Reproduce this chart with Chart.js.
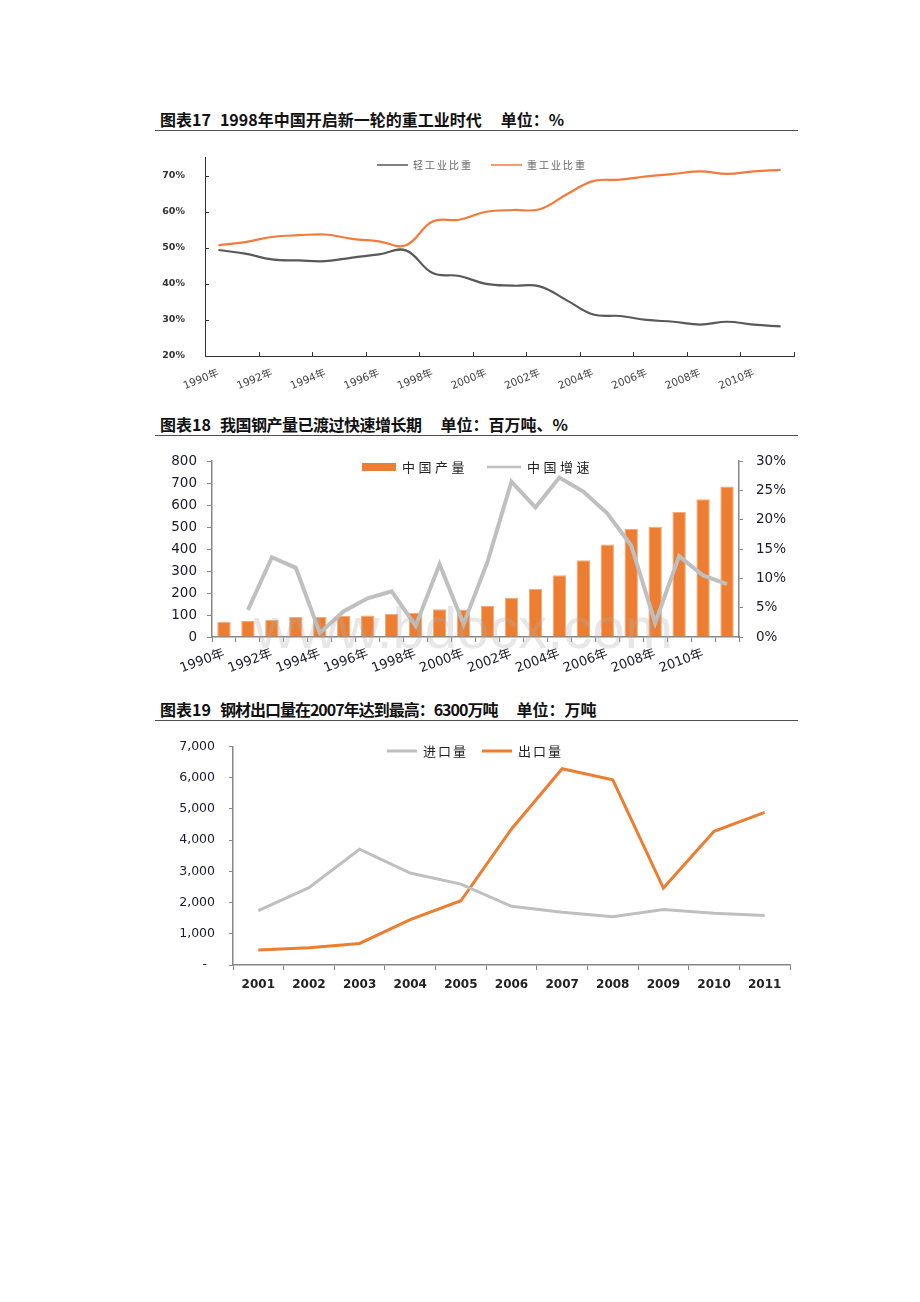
<!DOCTYPE html>
<html lang="zh-CN">
<head>
<meta charset="UTF-8" />
<title>钢铁行业图表</title>
<script src="https://cdn.jsdelivr.net/npm/chart.js"></script>
<style>
  body { margin: 0; width: 920px; height: 1302px; background: #fff; position: relative; font-family: "Noto Sans CJK SC", sans-serif; }
  .title { position: absolute; left: 160px; font-size: 16px; font-weight: bold; color: #111; line-height: 20px; white-space: nowrap; }
  .title .g1 { margin-left: 9px; }
  .title .g2 { margin-left: 19px; }
  .rule { position: absolute; left: 155px; width: 643px; height: 0; border-top: 1.6px solid #505050; }
  canvas { position: absolute; left: 150px; }
  .mark { position: absolute; left: 254px; top: 594px; font: 58px "Liberation Sans", sans-serif; color: rgba(175, 175, 175, 0.3); pointer-events: none; white-space: nowrap; }
</style>
</head>
<body>

<div class="title" style="top:109px">图表17<span class="g1">1998年中国开启新一轮的重工业时代</span><span class="g2">单位：%</span></div>
<div class="rule" style="top:130px"></div>
<canvas id="c1" width="650" height="262" style="top:140px"></canvas>

<div class="title" style="top:414px">图表18<span class="g1" style="letter-spacing:-0.5px">我国钢产量已渡过快速增长期</span><span class="g2">单位：百万吨、%</span></div>
<div class="rule" style="top:435px"></div>
<canvas id="c2" width="650" height="250" style="top:440px"></canvas>
<div class="mark">www.bdocx.com</div>

<div class="title" style="top:699px">图表19<span class="g1" style="letter-spacing:-1px">钢材出口量在2007年达到最高：6300万吨</span><span class="g2">单位：万吨</span></div>
<div class="rule" style="top:720px"></div>
<canvas id="c3" width="650" height="275" style="top:725px"></canvas>

<script>
  // 图表17 / 图表18 的年份
  const years90 = ['1990年', '1991年', '1992年', '1993年', '1994年', '1995年', '1996年', '1997年',
    '1998年', '1999年', '2000年', '2001年', '2002年', '2003年', '2004年', '2005年',
    '2006年', '2007年', '2008年', '2009年', '2010年', '2011年'];

  // 轻/重工业比重 (%)
  const lightShare = [49.4, 48.4, 46.8, 46.5, 46.3, 47.3, 48.2, 49.3, 43.0, 42.2, 40.0,
    39.5, 39.3, 35.5, 31.5, 31.1, 30.0, 29.5, 28.7, 29.5, 28.7, 28.2];
  const heavyShare = [50.7, 51.6, 53.0, 53.5, 53.7, 52.5, 51.8, 50.7, 57.3, 57.8, 60.0,
    60.5, 60.7, 64.8, 68.5, 68.9, 69.8, 70.5, 71.2, 70.5, 71.2, 71.6];

  // 中国钢产量 (百万吨) 与增速 (%)
  const steelOutput = [69, 73, 79, 91, 91, 96, 98, 106, 110, 126, 125,
    141, 178, 219, 281, 349, 421, 491, 501, 569, 626, 684];
  const steelGrowth = [null, 4.6, 13.6, 11.8, 0.7, 4.4, 6.6, 7.8, 1.9, 12.4, 2.2,
    12.8, 26.5, 22.1, 27.2, 24.8, 21.1, 15.6, 2.4, 13.8, 10.5, 9.0];

  // 钢材进出口量 (万吨)
  const years01 = ['2001', '2002', '2003', '2004', '2005', '2006', '2007', '2008', '2009', '2010', '2011'];
  const importVol = [1745, 2477, 3710, 2947, 2592, 1881, 1693, 1546, 1776, 1661, 1588];
  const exportVol = [480, 554, 690, 1452, 2058, 4357, 6290, 5935, 2466, 4284, 4890];

  const NUM_FONT = '"DejaVu Sans", "Noto Sans CJK SC", sans-serif';
  const CJK_FONT = '"Noto Sans CJK SC", sans-serif';

  Chart.defaults.animation = false;
  Chart.defaults.responsive = false;
  Chart.defaults.plugins.tooltip.enabled = false;
  Chart.defaults.plugins.legend.display = false;

  // legend drawn inside the plot area, like the Excel originals
  const inLegend = {
    id: 'inLegend',
    afterDraw(chart, args, o) {
      const ctx = chart.ctx;
      ctx.save();
      ctx.font = o.font;
      ctx.letterSpacing = o.spacing + 'px';
      ctx.textBaseline = 'middle';
      let x = o.x;
      chart.data.datasets.forEach(ds => {
        const isBar = (ds.type || chart.config.type) === 'bar';
        if (isBar) {
          ctx.fillStyle = ds.backgroundColor;
          ctx.fillRect(x, o.y - o.rectH / 2, o.swatch, o.rectH);
        } else {
          ctx.strokeStyle = ds.borderColor;
          ctx.lineWidth = o.lineW;
          ctx.beginPath();
          ctx.moveTo(x, o.y);
          ctx.lineTo(x + o.swatch, o.y);
          ctx.stroke();
        }
        x += o.swatch + o.textGap;
        ctx.fillStyle = o.color;
        ctx.fillText(ds.label, x, o.y);
        x += ctx.measureText(ds.label).width + o.itemGap;
      });
      ctx.restore();
    }
  };

  // tick marks pointing into the plot (图表17)
  const innerTicks = {
    id: 'innerTicks',
    afterDraw(chart, args, o) {
      const ctx = chart.ctx, xs = chart.scales.x, ys = chart.scales.y;
      const half = (xs.getPixelForValue(1) - xs.getPixelForValue(0)) / 2;
      ctx.save();
      ctx.strokeStyle = o.color;
      ctx.lineWidth = 1;
      ctx.beginPath();
      for (let i = 2; i <= chart.data.labels.length; i += 2) {
        const px = Math.round(xs.getPixelForValue(i) - half) + 0.5;
        ctx.moveTo(px, ys.bottom);
        ctx.lineTo(px, ys.bottom - o.len);
      }
      for (let v = 30; v <= 70; v += 10) {
        const py = Math.round(ys.getPixelForValue(v)) + 0.5;
        ctx.moveTo(xs.left, py);
        ctx.lineTo(xs.left + o.len, py);
      }
      ctx.stroke();
      ctx.restore();
    }
  };

  // 图表17
  new Chart(document.getElementById('c1'), {
    type: 'line',
    data: {
      labels: years90,
      datasets: [
        { label: '轻工业比重', data: lightShare, borderColor: '#595959', borderWidth: 2.2, pointRadius: 0, tension: 0.4 },
        { label: '重工业比重', data: heavyShare, borderColor: '#F5793B', borderWidth: 2.2, pointRadius: 0, tension: 0.4 }
      ]
    },
    options: {
      layout: { padding: { top: 14, right: 6 } },
      scales: {
        x: {
          offset: true,
          grid: { display: false },
          border: { color: '#333', width: 1 },
          ticks: {
            autoSkip: false, minRotation: 22, maxRotation: 22, padding: 3,
            color: '#444', font: { family: NUM_FONT, size: 10.5 },
            callback: function (v, i) { return i % 2 === 0 ? this.getLabelForValue(v) : null; }
          },
          afterFit(s) { s.height = 46; }
        },
        y: {
          min: 20, max: 75,
          grid: { display: false },
          border: { color: '#333', width: 1 },
          ticks: {
            stepSize: 5, padding: 12, color: '#333',
            font: { family: NUM_FONT, size: 9.5, weight: 'bold' },
            callback: v => v % 10 === 0 ? v + '%' : null
          },
          afterFit(s) { s.width = 55; }
        }
      },
      plugins: {
        inLegend: { x: 227, y: 25, swatch: 31, textGap: 5, itemGap: 18, rectH: 6, lineW: 1.5,
          font: '10px ' + CJK_FONT, spacing: 2, color: '#666' },
        innerTicks: { len: 4, color: '#333' }
      }
    },
    plugins: [inLegend, innerTicks]
  });

  // 图表18
  new Chart(document.getElementById('c2'), {
    type: 'bar',
    data: {
      labels: years90,
      datasets: [
        { type: 'bar', label: '中国产量', data: steelOutput, backgroundColor: '#ED7D31',
          borderColor: '#F4A97C', borderWidth: 1, barPercentage: 0.56, categoryPercentage: 1.0, yAxisID: 'y', order: 1 },
        { type: 'line', label: '中国增速', data: steelGrowth, borderColor: '#BFBFBF', borderWidth: 4,
          pointRadius: 0, tension: 0, yAxisID: 'y1', order: 0 }
      ]
    },
    options: {
      layout: { padding: { top: 16, right: 0 } },
      scales: {
        x: {
          offset: true,
          grid: { drawOnChartArea: false, offset: true, color: '#868686', tickLength: 5 },
          border: { color: '#868686', width: 1.5 },
          ticks: {
            autoSkip: false, minRotation: 20, maxRotation: 20, padding: 4,
            color: '#1b1b2b', font: { family: NUM_FONT, size: 13 },
            callback: function (v, i) { return i % 2 === 0 ? this.getLabelForValue(v) : ''; }
          },
          afterFit(s) { s.height = 53; }
        },
        y: {
          position: 'left', min: 0, max: 800,
          grid: { drawOnChartArea: false, color: '#868686', tickLength: 5 },
          border: { color: '#868686', width: 1.5 },
          ticks: { stepSize: 100, padding: 10, color: '#1b1b2b', font: { family: NUM_FONT, size: 13.5 } },
          afterFit(s) { s.width = 62; }
        },
        y1: {
          position: 'right', min: 0, max: 30,
          grid: { drawOnChartArea: false, color: '#868686', tickLength: 4 },
          border: { color: '#868686', width: 1.5 },
          ticks: { stepSize: 5, padding: 13, color: '#1b1b2b', font: { family: NUM_FONT, size: 13.5 },
            callback: v => v + '%' },
          afterFit(s) { s.width = 61; }
        }
      },
      plugins: {
        inLegend: { x: 212, y: 27, swatch: 34, textGap: 6, itemGap: 19, rectH: 8, lineW: 2.5,
          font: '13px ' + CJK_FONT, spacing: 3.5, color: '#222' }
      }
    },
    plugins: [inLegend]
  });

  // 图表19
  new Chart(document.getElementById('c3'), {
    type: 'line',
    data: {
      labels: years01,
      datasets: [
        { label: '进口量', data: importVol, borderColor: '#BFBFBF', borderWidth: 3, pointRadius: 0, tension: 0 },
        { label: '出口量', data: exportVol, borderColor: '#ED7D31', borderWidth: 3, pointRadius: 0, tension: 0 }
      ]
    },
    options: {
      layout: { padding: { top: 17, right: 10 } },
      scales: {
        x: {
          offset: true,
          grid: { drawOnChartArea: false, offset: true, color: '#868686', tickLength: 5 },
          border: { color: '#868686', width: 1.5 },
          ticks: { padding: 8, color: '#222', font: { family: NUM_FONT, size: 12, weight: 'bold' } },
          afterFit(s) { s.height = 35; }
        },
        y: {
          min: 0, max: 7000,
          grid: { drawOnChartArea: false, color: '#868686', tickLength: 4 },
          border: { color: '#868686', width: 1.5 },
          ticks: {
            stepSize: 1000, padding: 14, color: '#1b1b2b', font: { family: NUM_FONT, size: 12.5 },
            callback: v => v === 0 ? '-  ' : v.toLocaleString('en-US')
          },
          afterFit(s) { s.width = 83; }
        }
      },
      plugins: {
        inLegend: { x: 237, y: 26, swatch: 30, textGap: 6, itemGap: 14, rectH: 6, lineW: 3,
          font: '13px ' + CJK_FONT, spacing: 2, color: '#222' }
      }
    },
    plugins: [inLegend]
  });
</script>
</body>
</html>
